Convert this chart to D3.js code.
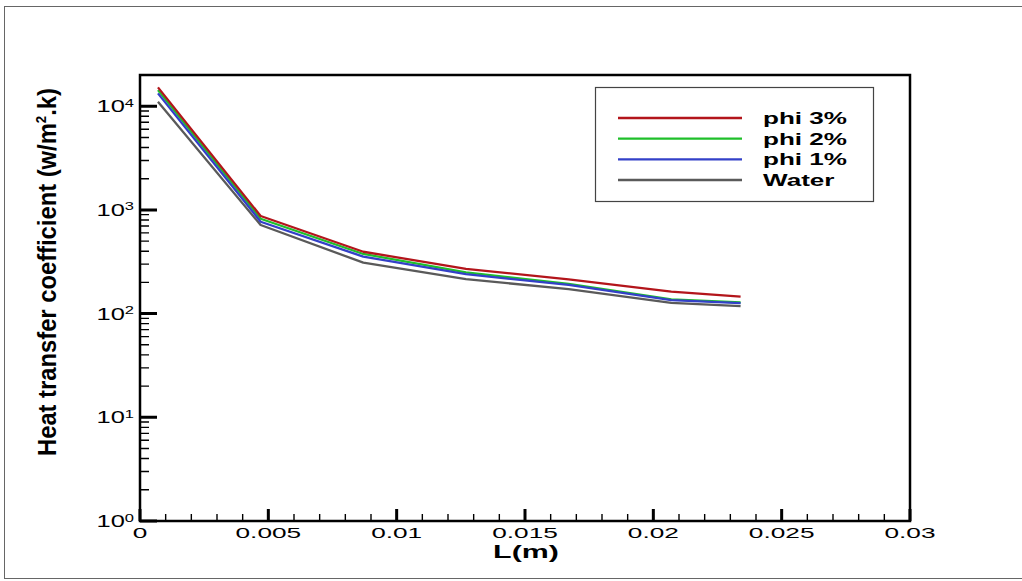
<!DOCTYPE html>
<html>
<head>
<meta charset="utf-8">
<script src="https://cdn.jsdelivr.net/npm/d3@7"></script>
<style>
    body { margin: 0; background: #fff; }
    text { font-family: "Liberation Sans", Arial, sans-serif; fill: #000; }
</style>
</head>
<body>
<svg id="chart" width="1022" height="581"></svg>
<script>
// values
var lengthM = [0.0007, 0.0047, 0.0087, 0.0127, 0.0167, 0.0207, 0.0234];
var phi3 = [15200, 873, 395, 270, 214, 163, 146];
var phi2 = [14300, 822, 376, 250, 193, 137, 128];
var phi1 = [13300, 769, 354, 240, 189, 135, 126];
var water = [11050, 715, 310, 215, 172, 127, 118];

var seriesNames = ['phi 3%', 'phi 2%', 'phi 1%', 'Water'];
var seriesColors = ['#b3151b', '#1fbf2a', '#3340c8', '#5a5a5a'];

var xMajorTicks = [0, 0.005, 0.01, 0.015, 0.02, 0.025, 0.03];
var xTickLabels = ['0', '0.005', '0.01', '0.015', '0.02', '0.025', '0.03'];
var yMajorTicks = [1, 10, 100, 1000, 10000];

var svg = d3.select('#chart');

var plot = {left: 140, right: 910, top: 75, bottom: 521};

var x = d3.scaleLinear().domain([0, 0.03]).range([plot.left, plot.right]);
var y = d3.scaleLog().domain([1, 20000]).range([plot.bottom, plot.top]);

// outer frame of the picture
svg.append('rect')
    .attr('x', 4.5).attr('y', 6.5)
    .attr('width', 1100).attr('height', 572)
    .attr('fill', 'none')
    .attr('stroke', '#666')
    .attr('stroke-width', 1);

// ticks point into the plot, one path per set
function tickPath(values, len, width, vertical){
    var d = values.map(function(v){
        if (vertical) return 'M' + plot.left + ',' + y(v) + 'H' + (plot.left + len);
        return 'M' + x(v) + ',' + plot.bottom + 'V' + (plot.bottom - len);
    }).join('');
    svg.append('path')
        .attr('d', d)
        .attr('fill', 'none')
        .attr('stroke', '#000')
        .attr('stroke-width', width);
}

function drawXAxis(){
    var minor = d3.range(0, 31).map(function(i){ return i / 1000; });
    tickPath(minor, 7, 1.4, false);
    tickPath(xMajorTicks, 12, 3, false);

    svg.append('g').selectAll('text')
        .data(xMajorTicks)
        .join('text')
        .attr('transform', function(d){ return 'translate(' + x(d) + ',538) scale(1.75,1)'; })
        .attr('text-anchor', 'middle')
        .attr('font-size', '15px')
        .text(function(d, i){ return xTickLabels[i]; });

    svg.append('text')
        .attr('transform', 'translate(526,558) scale(1.6,1)')
        .attr('text-anchor', 'middle')
        .attr('font-weight', 'bold')
        .attr('font-size', '19px')
        .text('L(m)');
}

function drawYAxis(){
    var minor = [];
    yMajorTicks.slice(0, 4).forEach(function(d){
        for (var k = 2; k < 10; k++) minor.push(d * k);
    });
    tickPath(minor, 9, 1.4, true);
    tickPath(yMajorTicks, 17, 3, true);

    var labels = svg.append('g').selectAll('text')
        .data(yMajorTicks)
        .join('text')
        .attr('transform', function(d){ return 'translate(134,' + (y(d) + 6) + ') scale(1.5,1)'; })
        .attr('text-anchor', 'end')
        .attr('font-size', '17px');
    labels.append('tspan').text('10');
    labels.append('tspan')
        .attr('dy', '-0.5em')
        .attr('font-size', '11px')
        .text(function(d){ return Math.round(Math.log10(d)); });

    var label = svg.append('text')
        .attr('transform', 'translate(56,272) rotate(-90)')
        .attr('text-anchor', 'middle')
        .attr('font-weight', 'bold')
        .attr('font-size', '25px')
        .attr('textLength', 368)
        .attr('lengthAdjust', 'spacingAndGlyphs');
    label.append('tspan').text('Heat transfer coefficient (w/m');
    label.append('tspan').attr('dy', -10).attr('font-size', '14px').text('2');
    label.append('tspan').attr('dy', 10).text('.k)');
}

function drawLines(){
    var line = d3.line()
        .x(function(d){ return x(d[0]); })
        .y(function(d){ return y(d[1]); });

    // bottom to top, as they overlap in the picture
    var order = [[water, 3], [phi2, 1], [phi1, 2], [phi3, 0]];
    order.forEach(function(s){
        svg.append('path')
            .datum(d3.zip(lengthM, s[0]))
            .attr('fill', 'none')
            .attr('stroke', seriesColors[s[1]])
            .attr('stroke-width', 2.3)
            .attr('stroke-linejoin', 'round')
            .attr('d', line);
    });
}

function drawFrame(){
    svg.append('rect')
        .attr('x', plot.left).attr('y', plot.top)
        .attr('width', plot.right - plot.left)
        .attr('height', plot.bottom - plot.top)
        .attr('fill', 'none')
        .attr('stroke', '#000')
        .attr('stroke-width', 2.5);
}

function drawLegend(){
    svg.append('rect')
        .attr('x', 595.5).attr('y', 87.5)
        .attr('width', 278).attr('height', 114)
        .attr('fill', '#fff')
        .attr('stroke', '#444')
        .attr('stroke-width', 1.2);

    var rowY = d3.scalePoint().domain(seriesNames).range([118, 180]);

    seriesNames.forEach(function(name, i){
        svg.append('line')
            .attr('x1', 618).attr('x2', 742)
            .attr('y1', rowY(name)).attr('y2', rowY(name))
            .attr('stroke', seriesColors[i])
            .attr('stroke-width', 2.3);
        svg.append('text')
            .attr('transform', 'translate(763,' + (rowY(name) + 6) + ') scale(1.63,1)')
            .attr('font-weight', 'bold')
            .attr('font-size', '16px')
            .text(name);
    });
}

drawLines();
drawFrame();
drawXAxis();
drawYAxis();
drawLegend();
</script>
</body>
</html>
